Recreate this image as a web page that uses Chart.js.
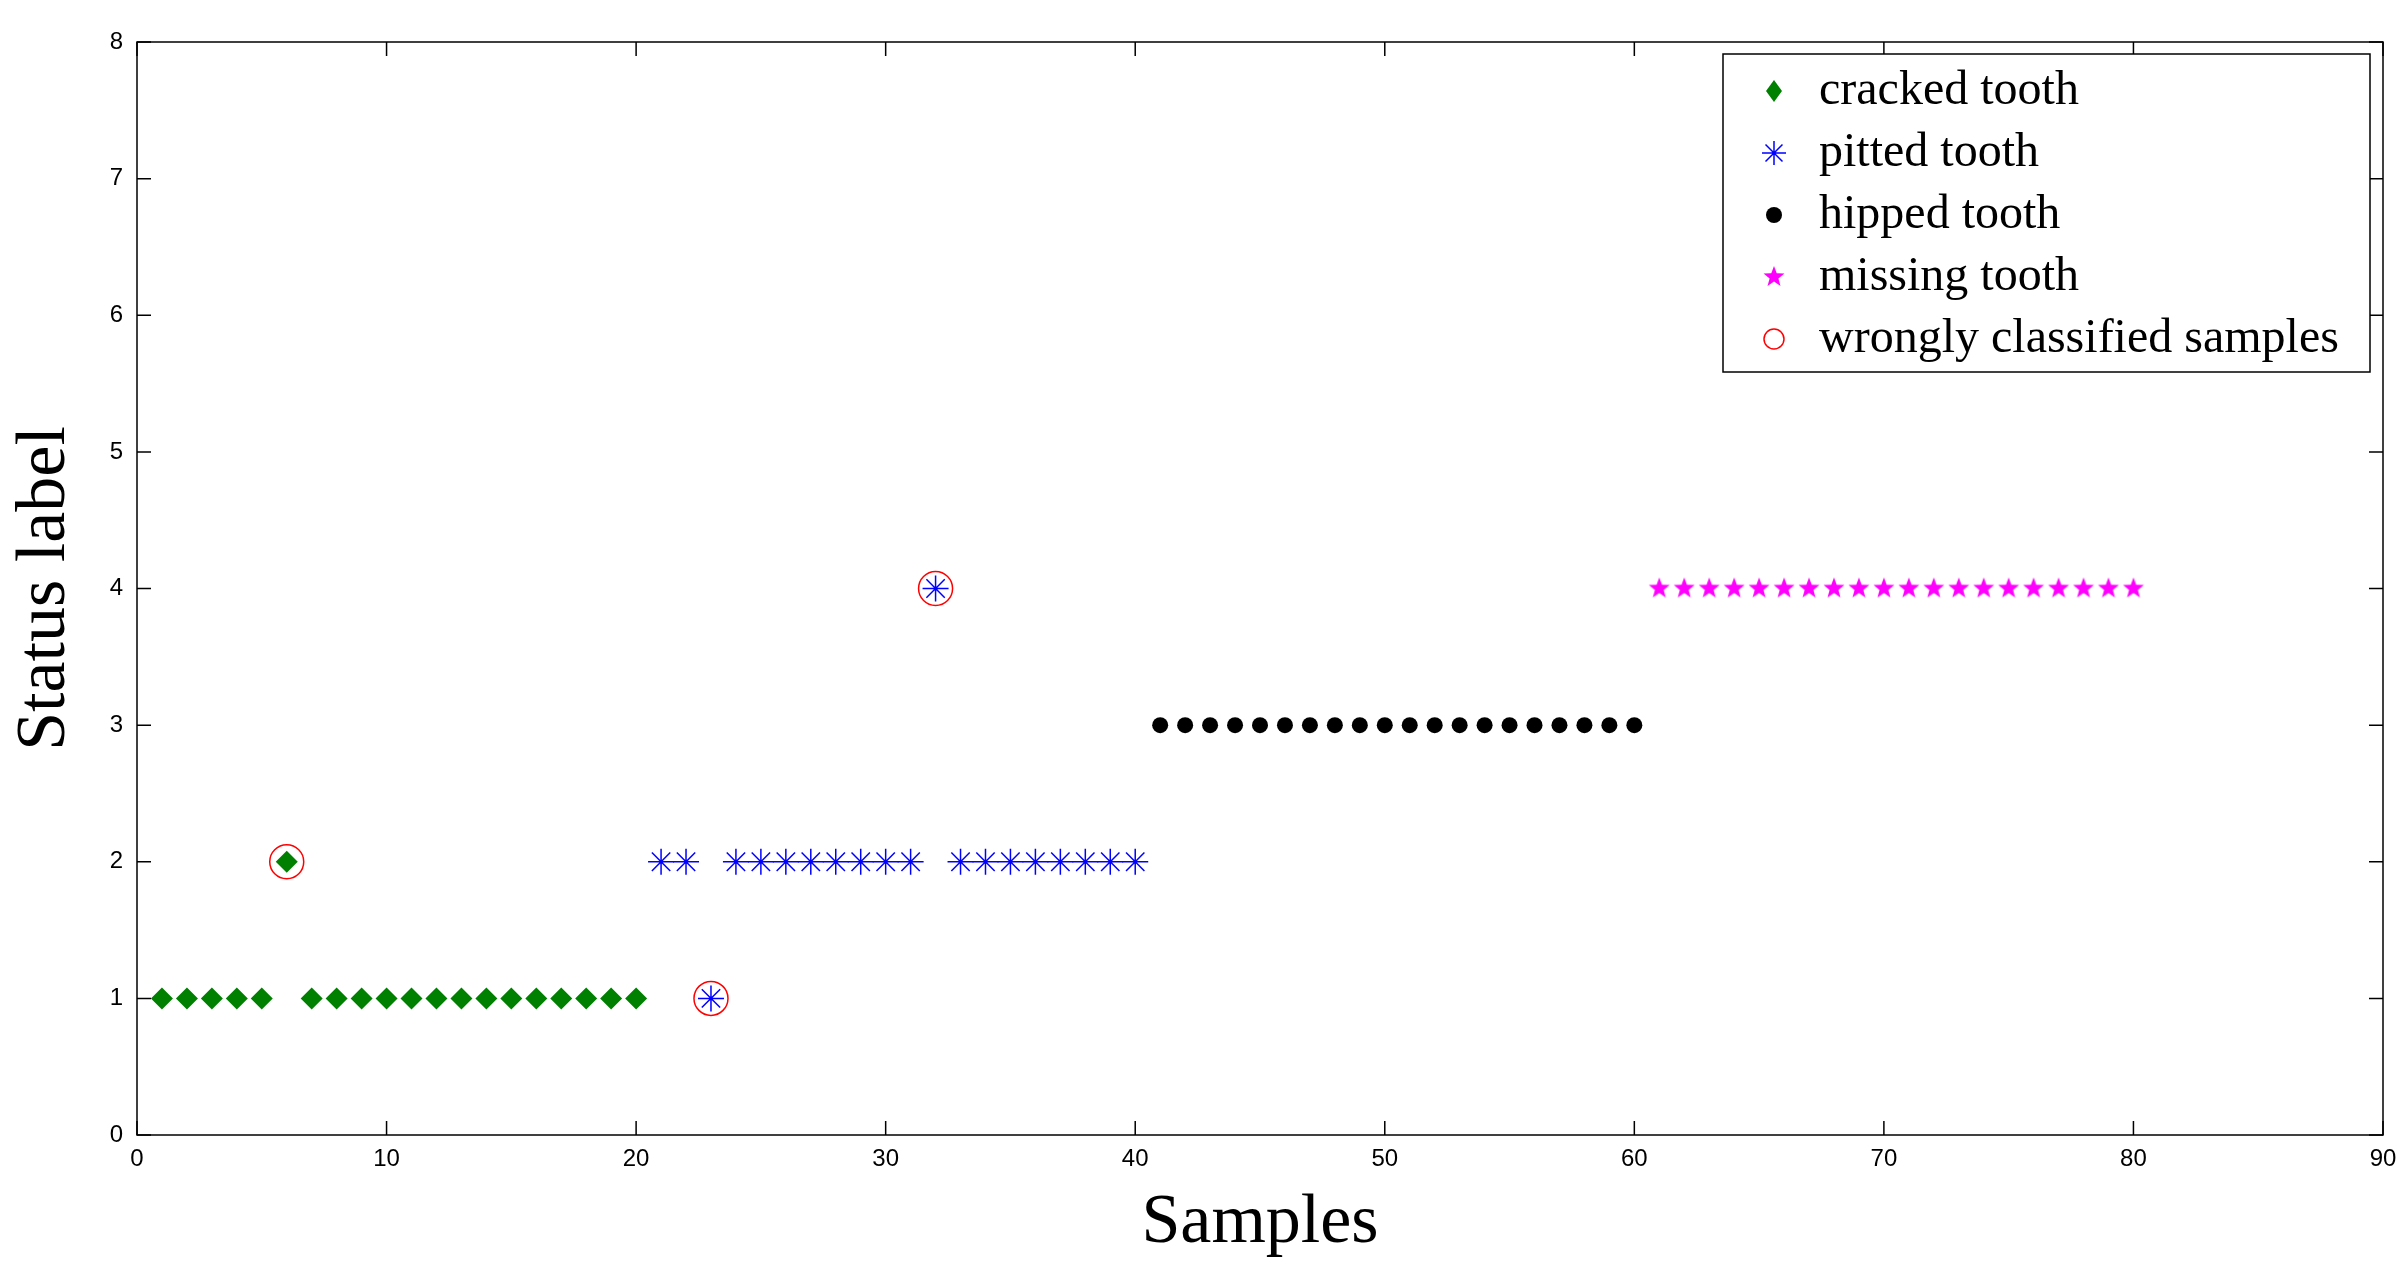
<!DOCTYPE html>
<html>
<head>
<script src="https://cdn.jsdelivr.net/npm/chart.js@4.4.0/dist/chart.umd.min.js"></script>
<style>body{margin:0;background:#fff}</style>
</head>
<body>
<canvas id="myChart" width="2405" height="1270" style="width:2405px;height:1270px"></canvas>
<script>
var cracked_x = [1,2,3,4,5,6,7,8,9,10,11,12,13,14,15,16,17,18,19,20]
var cracked_y = [1,1,1,1,1,2,1,1,1,1,1,1,1,1,1,1,1,1,1,1]
var pitted_x = [21,22,23,24,25,26,27,28,29,30,31,32,33,34,35,36,37,38,39,40]
var pitted_y = [2,2,1,2,2,2,2,2,2,2,2,4,2,2,2,2,2,2,2,2]
var hipped_x = [41,42,43,44,45,46,47,48,49,50,51,52,53,54,55,56,57,58,59,60]
var hipped_y = [3,3,3,3,3,3,3,3,3,3,3,3,3,3,3,3,3,3,3,3]
var missing_x = [61,62,63,64,65,66,67,68,69,70,71,72,73,74,75,76,77,78,79,80]
var missing_y = [4,4,4,4,4,4,4,4,4,4,4,4,4,4,4,4,4,4,4,4]
var wrong_x = [6,23,32]
var wrong_y = [2,1,4]
var labels = ["cracked tooth","pitted tooth","hipped tooth","missing tooth","wrongly classified samples"]

function pts(xs, ys){ var o=[]; for(var i=0;i<xs.length;i++) o.push({x:xs[i],y:ys[i]}); return o }

function starImg(r, color){
  var c=document.createElement("canvas"); c.width=c.height=r*2+2
  var g=c.getContext("2d"); g.fillStyle=color; g.beginPath()
  for(var i=0;i<10;i++){
    var rr = i%2==0 ? r : r*0.42
    var a = -Math.PI/2 + i*Math.PI/5
    g.lineTo(r+1+rr*Math.cos(a), r+1+rr*Math.sin(a))
  }
  g.closePath(); g.fill(); return c
}
var star = starImg(11,"#ff00ff")

var boxPlugin = {
  id:"box",
  afterDraw:function(chart){
    var ctx=chart.ctx, a=chart.chartArea, xs=chart.scales.x, ys=chart.scales.y
    ctx.save(); ctx.strokeStyle="#000"; ctx.lineWidth=1.5
    ctx.strokeRect(a.left,a.top,a.right-a.left,a.bottom-a.top)
    for(var v=0;v<=90;v+=10){
      var px=xs.getPixelForValue(v)
      ctx.beginPath(); ctx.moveTo(px,a.bottom); ctx.lineTo(px,a.bottom-14)
      ctx.moveTo(px,a.top); ctx.lineTo(px,a.top+14); ctx.stroke()
    }
    for(var v=0;v<=8;v++){
      var py=ys.getPixelForValue(v)
      ctx.beginPath(); ctx.moveTo(a.left,py); ctx.lineTo(a.left+14,py)
      ctx.moveTo(a.right,py); ctx.lineTo(a.right-14,py); ctx.stroke()
    }
    // legend
    var lx=1723, ly=54, lw=647, lh=318
    ctx.fillStyle="#fff"; ctx.fillRect(lx,ly,lw,lh)
    ctx.strokeRect(lx,ly,lw,lh)
    ctx.font="48px 'Liberation Serif'"; ctx.textBaseline="middle"
    for(var i=0;i<labels.length;i++){
      var cy=ly+37+i*62, cx=lx+51
      ctx.fillStyle="#000"; ctx.fillText(labels[i], lx+96, cy)
      ctx.beginPath()
      if(i==0){ ctx.fillStyle="#008000"; ctx.moveTo(cx,cy-11); ctx.lineTo(cx+8,cy); ctx.lineTo(cx,cy+11); ctx.lineTo(cx-8,cy); ctx.fill() }
      if(i==1){ ctx.strokeStyle="#0000ff"; ctx.lineWidth=1.5
        for(var k=0;k<4;k++){ var an=k*Math.PI/4; ctx.moveTo(cx-12*Math.cos(an),cy-12*Math.sin(an)); ctx.lineTo(cx+12*Math.cos(an),cy+12*Math.sin(an)) }
        ctx.stroke() }
      if(i==2){ ctx.fillStyle="#000"; ctx.arc(cx,cy,8,0,Math.PI*2); ctx.fill() }
      if(i==3){ ctx.drawImage(star,cx-12,cy-12) }
      if(i==4){ ctx.strokeStyle="#ff0000"; ctx.lineWidth=1.5; ctx.arc(cx,cy,10,0,Math.PI*2); ctx.stroke() }
    }
    ctx.restore()
  }
}

var myChart = document.getElementById("myChart").getContext("2d")
var chart = new Chart(myChart, {
  type:"scatter",
  data:{
    datasets:[
      {label:labels[0], data:pts(cracked_x,cracked_y), pointStyle:"rectRot", radius:11, backgroundColor:"#008000", borderColor:"#008000", borderWidth:0},
      {label:labels[1], data:pts(pitted_x,pitted_y), pointStyle:"star", radius:13, borderColor:"#0000ff", backgroundColor:"#0000ff", borderWidth:1.5},
      {label:labels[2], data:pts(hipped_x,hipped_y), pointStyle:"circle", radius:8, backgroundColor:"#000", borderColor:"#000", borderWidth:0},
      {label:labels[3], data:pts(missing_x,missing_y), pointStyle:star, backgroundColor:"#ff00ff"},
      {label:labels[4], data:pts(wrong_x,wrong_y), pointStyle:"circle", radius:17, backgroundColor:"rgba(0,0,0,0)", borderColor:"#ff0000", borderWidth:1.5}
    ]
  },
  options:{
    responsive:false, animation:false,
    layout:{padding:{top:42,right:22,left:0,bottom:0}},
    plugins:{legend:{display:false}, tooltip:{enabled:false}},
    scales:{
      x:{min:0,max:90, grid:{display:false}, border:{display:false},
        ticks:{stepSize:10, color:"#000", font:{family:"'Liberation Sans Narrow','Liberation Sans'", size:24}, padding:2},
        title:{display:true,text:"Samples",color:"#000",font:{family:"'Liberation Serif'",size:70},padding:{top:0}},
        afterFit:function(s){ s.height=135 }},
      y:{min:0,max:8, grid:{display:false}, border:{display:false},
        ticks:{stepSize:1, color:"#000", font:{family:"'Liberation Sans Narrow','Liberation Sans'", size:24}, padding:6},
        title:{display:true,text:"Status label",color:"#000",font:{family:"'Liberation Serif'",size:70},padding:{bottom:10}},
        afterFit:function(s){ s.width=137 }}
    }
  },
  plugins:[boxPlugin]
})
</script>
</body>
</html>
